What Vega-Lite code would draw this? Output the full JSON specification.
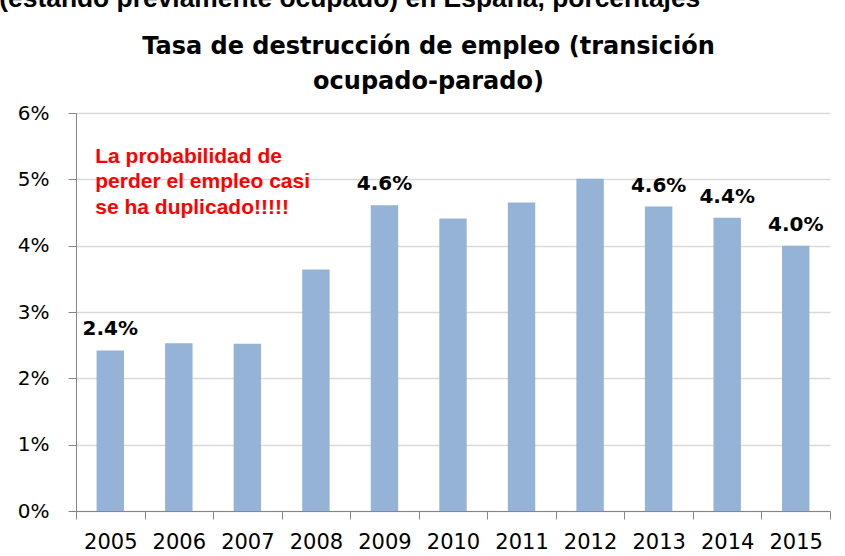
{
  "$schema": "https://vega.github.io/schema/vega-lite/v6.json",
  "width": 754,
  "height": 398,
  "autosize": {"type": "none"},
  "padding": {"left": 76, "top": 113, "right": 15, "bottom": 45},
  "background": "white",
  "title": {
    "text": "(estando previamente ocupado) en España, porcentajes",
    "anchor": "start",
    "frame": "bounds",
    "font": "Liberation Sans",
    "fontSize": 26.4,
    "fontWeight": "bold",
    "color": "black",
    "offset": 22,
    "dx": -18
  },
  "config": {"view": {"stroke": null}},
  "data": {
    "values": [
      {"year": "2005", "tasa": 0.0242, "etiqueta": true},
      {"year": "2006", "tasa": 0.0253, "etiqueta": false},
      {"year": "2007", "tasa": 0.0252, "etiqueta": false},
      {"year": "2008", "tasa": 0.0364, "etiqueta": false},
      {"year": "2009", "tasa": 0.0461, "etiqueta": true},
      {"year": "2010", "tasa": 0.0441, "etiqueta": false},
      {"year": "2011", "tasa": 0.0465, "etiqueta": false},
      {"year": "2012", "tasa": 0.0501, "etiqueta": false},
      {"year": "2013", "tasa": 0.0459, "etiqueta": true},
      {"year": "2014", "tasa": 0.0442, "etiqueta": true},
      {"year": "2015", "tasa": 0.0400, "etiqueta": true}
    ]
  },
  "layer": [
    {
      "mark": {"type": "bar", "color": "#95b3d7", "width": {"band": 0.4}},
      "encoding": {
        "x": {
          "field": "year",
          "type": "ordinal",
          "scale": {"paddingInner": 0, "paddingOuter": 0},
          "axis": {
            "title": null,
            "labelAngle": 0,
            "labelFont": "DejaVu Sans",
            "labelFontSize": 21,
            "labelColor": "black",
            "labelPadding": 12,
            "tickBand": "extent",
            "tickSize": 8,
            "tickColor": "#868686",
            "domainColor": "#868686",
            "grid": false
          }
        },
        "y": {
          "field": "tasa",
          "type": "quantitative",
          "scale": {"domain": [0, 0.06], "nice": false},
          "axis": {
            "title": null,
            "values": [0, 0.01, 0.02, 0.03, 0.04, 0.05, 0.06],
            "format": ".0%",
            "labelFont": "DejaVu Sans",
            "labelFontSize": 20,
            "labelColor": "black",
            "labelPadding": 19,
            "tickSize": 8,
            "tickColor": "#868686",
            "domainColor": "#868686",
            "grid": true,
            "gridColor": "#d9d9d9",
            "gridWidth": 1.5
          }
        }
      }
    },
    {
      "transform": [{"filter": "datum.etiqueta"}],
      "mark": {
        "type": "text",
        "dy": -15,
        "baseline": "alphabetic",
        "font": "DejaVu Sans",
        "fontSize": 20,
        "fontWeight": "bold",
        "color": "black"
      },
      "encoding": {
        "x": {"field": "year", "type": "ordinal", "axis": null},
        "y": {"field": "tasa", "type": "quantitative"},
        "text": {"field": "tasa", "type": "quantitative", "format": ".1%"}
      }
    },
    {
      "data": {
        "values": [
          {"year": "2005", "tasa": 0.0525, "nota": ["La probabilidad de", "perder el empleo casi", "se ha duplicado!!!!!"]}
        ]
      },
      "mark": {
        "type": "text",
        "align": "left",
        "baseline": "alphabetic",
        "dx": -15,
        "font": "Liberation Sans",
        "fontSize": 21,
        "fontWeight": "bold",
        "color": "#ff0000",
        "lineHeight": 25.5
      },
      "encoding": {
        "x": {
          "field": "year",
          "type": "ordinal",
          "axis": {
            "orient": "top",
            "title": ["Tasa de destrucción de empleo (transición", "ocupado-parado)"],
            "labels": false,
            "ticks": false,
            "domain": false,
            "grid": false,
            "titleFont": "DejaVu Sans",
            "titleFontSize": 24,
            "titleFontWeight": "bold",
            "titleColor": "black",
            "titleLineHeight": 35,
            "titleBaseline": "alphabetic",
            "titleAnchor": "middle",
            "titleX": 352,
            "titleY": -60
          }
        },
        "y": {"field": "tasa", "type": "quantitative"},
        "text": {"field": "nota", "type": "nominal"}
      }
    }
  ],
  "resolve": {"axis": {"x": "independent"}}
}
